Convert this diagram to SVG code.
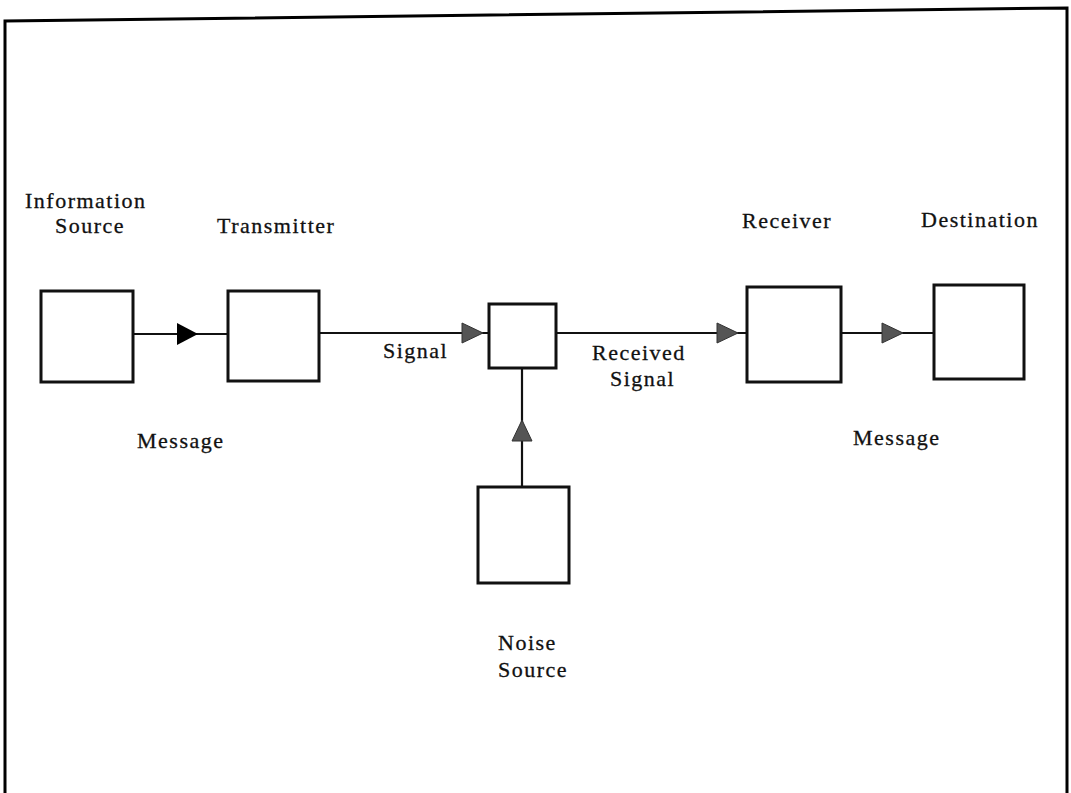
<svg xmlns="http://www.w3.org/2000/svg" width="1071" height="793" viewBox="0 0 1071 793">
<style>
.box{fill:#fff;stroke:#111;stroke-width:3}
.ln{fill:none;stroke:#111;stroke-width:2.2}
.lb{font-family:"Liberation Serif",serif;font-size:22px;letter-spacing:1.5px;fill:#111;stroke:#111;stroke-width:0.3}
.frame{fill:none;stroke:#000;stroke-width:3}
</style>
<defs>
<marker id="aB" markerUnits="userSpaceOnUse" markerWidth="22" markerHeight="24" refX="22" refY="12" orient="auto" viewBox="0 0 22 24"><path d="M1,1 L22,12 L1,23 Z" fill="#000"/></marker>
<marker id="aG" markerUnits="userSpaceOnUse" markerWidth="22" markerHeight="22" refX="22" refY="11" orient="auto" viewBox="0 0 22 22"><path d="M1,1 L22,11 L1,21 Z" fill="#555" stroke="#333" stroke-width="1"/></marker>
</defs>
<rect width="1071" height="793" fill="#fff"/>
<path class="frame" d="M5,793 L5,21 L1067,8 L1067,793"/>
<g id="connectors">
<path class="ln" d="M133,334 L198,334 L228,334" marker-mid="url(#aB)"/>
<path class="ln" d="M319,333 L483,333 L489,333" marker-mid="url(#aG)"/>
<path class="ln" d="M556,333 L738,333 L747,333" marker-mid="url(#aG)"/>
<path class="ln" d="M841,333 L903,333 L934,333" marker-mid="url(#aG)"/>
<path class="ln" d="M522,487 L522,420 L522,368" marker-mid="url(#aG)"/>
</g>
<g id="information-source">
<rect class="box" x="41" y="291" width="92" height="91"/>
<text class="lb" x="25" y="208">Information</text>
<text class="lb" x="55" y="233">Source</text>
</g>
<g id="transmitter">
<rect class="box" x="228" y="291" width="91" height="90"/>
<text class="lb" x="217" y="233">Transmitter</text>
</g>
<g id="channel">
<rect class="box" x="489" y="304" width="67" height="64"/>
</g>
<g id="noise-source">
<rect class="box" x="478" y="487" width="91" height="96"/>
<text class="lb" x="498" y="650">Noise</text>
<text class="lb" x="498" y="677">Source</text>
</g>
<g id="receiver">
<rect class="box" x="747" y="287" width="94" height="95"/>
<text class="lb" x="742" y="228">Receiver</text>
</g>
<g id="destination">
<rect class="box" x="934" y="285" width="90" height="94"/>
<text class="lb" x="921" y="227">Destination</text>
</g>
<g id="labels">
<text class="lb" x="383" y="358">Signal</text>
<text class="lb" x="592" y="360">Received</text>
<text class="lb" x="610" y="386">Signal</text>
<text class="lb" x="137" y="448">Message</text>
<text class="lb" x="853" y="445">Message</text>
</g>
</svg>
